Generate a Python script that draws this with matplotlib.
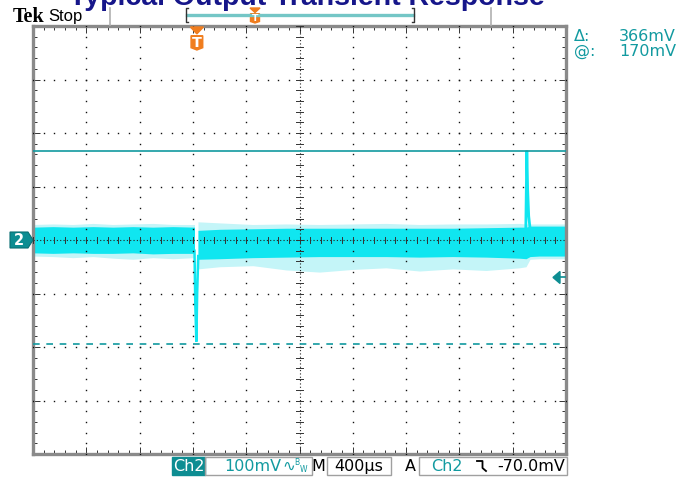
import matplotlib
matplotlib.use("Agg")
import matplotlib.pyplot as plt
from matplotlib.patches import Polygon, Rectangle
import numpy as np

# ---- data (time in us, level in mV, 100 mV/div, 400 us/div)
pre_t = [0, 150, 300, 450, 600, 750, 900, 1050, 1212]
pre_hi = [24, 25, 24, 25, 24, 25, 24, 25, 24]
pre_lo = [-24, -25, -24, -25, -25, -24, -26, -25, -25]
pre_fhi = [29, 30, 29, 31, 29, 30, 31, 29, 29]
pre_flo = [-30, -31, -33, -31, -34, -36, -33, -35, -33]

post_t = [1238, 1400, 1650, 1900, 2150, 2400, 2650, 2900, 3150, 3400, 3650,
          3700, 3730, 3800, 3900, 4000]
post_hi = [18, 20, 21, 22, 22, 22, 22, 22, 22, 23, 24, 24, 26, 26, 26, 26]
post_lo = [-36, -35, -33, -32, -31, -31, -31, -32, -31, -32, -34, -35, -31,
           -30, -30, -30]
post_fhi = [34, 32, 29, 30, 29, 30, 31, 29, 30, 30, 31, 30, 30, 30, 30, 30]
post_flo = [-54, -50, -48, -56, -60, -55, -52, -58, -54, -57, -52, -50, -36,
            -35, -35, -35]

dip_t = [1212, 1218, 1226, 1232, 1240]
dip_v = [-20, -120, -190, -100, -30]
peak_t = [3696, 3702, 3706, 3712, 3720, 3730]
peak_v = [-20, 90, 167, 95, 45, 22]

cursor_hi = 167
cursor_lo = -195
trig_level = -70
trig_time = 1230

readout_delta = "366mV"
readout_at = "170mV"

CORE = "#10e6f0"
FUZZ = "#c4f5f8"
TEAL = "#129aa0"
TEAL_DARK = "#0d8d92"
ORANGE = "#f07d1e"

W, H = 677, 479
fig = plt.figure(figsize=(W / 100, H / 100), dpi=100)
fig.patch.set_facecolor("white")

# scope graticule area in pixels: x 33..566, y 26..454
x0, x1, y0, y1 = 33, 566, 26, 454
ax = fig.add_axes([x0 / W, 1 - y1 / H, (x1 - x0) / W, (y1 - y0) / H])
ax.set_xlim(0, 4000)
ax.set_ylim(-400, 400)
ax.set_facecolor("white")

# trace
ax.fill_between(pre_t, pre_flo, pre_fhi, color=FUZZ, lw=0, zorder=2)
ax.fill_between(pre_t, pre_lo, pre_hi, color=CORE, lw=0, zorder=2.2)
ax.fill_between(post_t, post_flo, post_fhi, color=FUZZ, lw=0, zorder=2)
ax.fill_between(post_t, post_lo, post_hi, color=CORE, lw=0, zorder=2.2)
ax.plot(dip_t, dip_v, color=CORE, lw=1.8, zorder=2.3, solid_joinstyle="miter")
ax.plot(peak_t, peak_v, color=CORE, lw=2.0, zorder=2.3, solid_joinstyle="miter")

# graticule dots
dot = dict(color="#111111", marker="s", ms=1.0, mew=0, ls="none", zorder=3)
sub_x = np.arange(0, 4001, 80)
sub_y = np.arange(-400, 401, 20)
for gx in range(400, 4000, 400):
    if gx != 2000:
        ax.plot(np.full(sub_y.size, gx), sub_y, **dot)
for gy in range(-300, 400, 100):
    if gy != 0:
        ax.plot(sub_x, np.full(sub_x.size, gy), **dot)

# centre cross with sub ticks
ax.axhline(0, color="#222222", lw=0.8, ls=(0, (1, 2)), zorder=3)
ax.axvline(2000, color="#222222", lw=0.8, ls=(0, (1, 2)), zorder=3)
for sx in sub_x:
    ax.plot([sx, sx], [-5, 5], color="#333333", lw=0.7, zorder=3)
for sy in sub_y:
    ax.plot([1972, 2028], [sy, sy], color="#333333", lw=0.7, zorder=3)

# cursors
ax.axhline(cursor_hi, color=TEAL, lw=1.2, zorder=4)
ax.axhline(cursor_lo, color=TEAL, lw=1.2, ls=(0, (4, 4)), zorder=4)

# frame ticks
ax.set_xticks(np.arange(0, 4001, 400))
ax.set_xticks(sub_x, minor=True)
ax.set_yticks(np.arange(-400, 401, 100))
ax.set_yticks(sub_y, minor=True)
ax.tick_params(which="both", direction="in", top=True, right=True,
               labelbottom=False, labelleft=False, color="#333333", width=0.7)
ax.tick_params(which="major", length=5)
ax.tick_params(which="minor", length=3)
for s in ax.spines.values():
    s.set_color("#8a8a8a")
    s.set_linewidth(2.4)

# ---- overlay in pixel coordinates
ov = fig.add_axes([0, 0, 1, 1], zorder=5)
ov.set_xlim(0, W)
ov.set_ylim(H, 0)
ov.axis("off")
ov.patch.set_alpha(0)


def px_x(t):
    return x0 + (x1 - x0) * t / 4000


def px_y(v):
    return y0 + (y1 - y0) * (400 - v) / 800


def t_marker(cx, top, w, h):
    ov.add_patch(Polygon([[cx - w * 0.5, top], [cx + w * 0.5, top],
                          [cx, top + h * 0.3]], closed=True, color=ORANGE))
    ov.add_patch(Polygon([[cx - w * 0.45, top + h * 0.38],
                          [cx + w * 0.45, top + h * 0.38],
                          [cx + w * 0.45, top + h * 0.9], [cx, top + h],
                          [cx - w * 0.45, top + h * 0.9]],
                         closed=True, color=ORANGE))
    ov.text(cx, top + h * 0.68, "T", color="white", fontsize=h * 0.45,
            fontweight="bold", ha="center", va="center",
            family="DejaVu Sans")


# title (cut off at the top edge, as in the screenshot)
ov.text(307, 5, "Typical Output Transient Response", color="#16168a",
        fontsize=20.5, fontweight="bold", ha="center", va="baseline",
        family="Liberation Sans")

ov.text(13, 22, "Tek", fontsize=14.5, fontweight="bold", family="Liberation Serif",
        va="baseline", ha="left", color="black")
ov.text(48, 21, "Stop", fontsize=12, family="Liberation Sans",
        va="baseline", ha="left", color="black")

# record-window bar
for gx in (110, 491):
    ov.plot([gx, gx], [8, y0 - 1], color="#b0b0b0", lw=1.2)
ov.plot([187, 413], [15, 15], color="#74c6c6", lw=2.4)
for bx, d in ((186, 1), (414, -1)):
    ov.plot([bx + 2 * d, bx, bx, bx + 2 * d], [8, 8, 22, 22], color="#333333",
            lw=1.0)
t_marker(255, 8, 10, 15)
t_marker(px_x(trig_time), y0 + 1, 13, 23)

# channel ground marker
gy = px_y(0)
ov.add_patch(Polygon([[10, gy - 8], [28, gy - 8], [33, gy], [28, gy + 8],
                      [10, gy + 8]], closed=True, facecolor=TEAL_DARK,
                     edgecolor="#0a6f73", lw=0.8))
ov.text(19, gy + 0.5, "2", color="white", fontsize=10.5, fontweight="bold",
        ha="center", va="center", family="DejaVu Sans")

# trigger level marker
ty = px_y(trig_level)
ov.add_patch(Polygon([[553, ty], [560, ty - 6], [560, ty + 6]], closed=True,
                     color=TEAL_DARK))
ov.plot([560, 565], [ty, ty], color=TEAL_DARK, lw=1.2)

# cursor readouts
ov.text(574, 36, "\u0394:", color=TEAL, fontsize=11.5, va="center",
        family="DejaVu Sans")
ov.text(676, 36, readout_delta, color=TEAL, fontsize=11.5, va="center",
        ha="right", family="DejaVu Sans")
ov.text(574, 51, "@:", color=TEAL, fontsize=11.5, va="center",
        family="DejaVu Sans")
ov.text(676, 51, readout_at, color=TEAL, fontsize=11.5, va="center",
        ha="right", family="DejaVu Sans")

# bottom readouts
by0, by1 = 457, 475
bmid = (by0 + by1) / 2 + 0.5
ov.add_patch(Rectangle((172, by0), 33, by1 - by0, color=TEAL_DARK))
ov.text(188.5, bmid, "Ch2", color="white", fontsize=11.5, ha="center",
        va="center", family="DejaVu Sans")
for bx0, bx1 in ((205, 312), (327, 391), (419, 567)):
    ov.add_patch(Rectangle((bx0, by0), bx1 - bx0, by1 - by0, fill=False,
                           edgecolor="#a0a0a0", lw=1))
ov.text(253, bmid, "100mV", color=TEAL, fontsize=11.5, ha="center",
        va="center", family="DejaVu Sans")
ov.text(289, bmid, "\u223f", color=TEAL, fontsize=11, ha="center",
        va="center", family="DejaVu Sans")
ov.text(297, bmid - 4, "B", color=TEAL, fontsize=5.5, ha="center",
        va="center", family="DejaVu Sans")
ov.text(303, bmid + 3, "W", color=TEAL, fontsize=5.5, ha="center",
        va="center", family="DejaVu Sans")
ov.text(318, bmid, "M", color="black", fontsize=11.5, ha="center",
        va="center", family="DejaVu Sans")
ov.text(359, bmid, "400\u00b5s", color="black", fontsize=11.5, ha="center",
        va="center", family="DejaVu Sans")
ov.text(410, bmid, "A", color="black", fontsize=11.5, ha="center",
        va="center", family="DejaVu Sans")
ov.text(447, bmid, "Ch2", color=TEAL, fontsize=11.5, ha="center",
        va="center", family="DejaVu Sans")
ov.plot([477, 482.5, 482.5, 486], [461, 461, 468, 471], color="black", lw=1.3)
ov.text(565, bmid, "-70.0mV", color="black", fontsize=11.5, ha="right",
        va="center", family="DejaVu Sans")

fig.savefig("out.png", dpi=100)
